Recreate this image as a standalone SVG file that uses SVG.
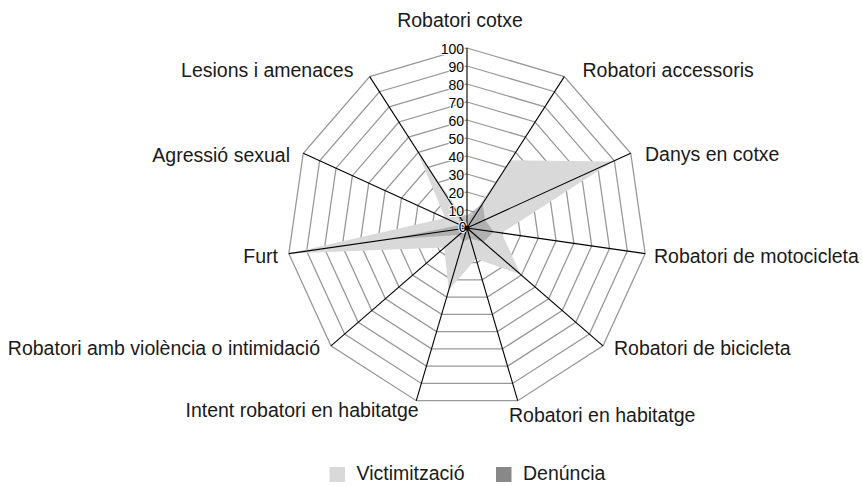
<svg xmlns="http://www.w3.org/2000/svg" xmlns:xlink="http://www.w3.org/1999/xlink" width="863" height="486" viewBox="0 0 863 486">
<style>
.lbl{font-family:"Liberation Sans",Arial,sans-serif;font-size:19.5px;fill:#1a1a1a}
.tick{font-family:"Liberation Sans Narrow","Liberation Sans",Arial,sans-serif;font-size:14px;fill:#000;text-anchor:end;stroke:#fff;stroke-width:2px;paint-order:stroke;stroke-linejoin:round}
.ring{fill:none;stroke:#999;stroke-width:1.3;vector-effect:non-scaling-stroke}
.axis{stroke:#000;stroke-width:1.1;fill:none}
.vict{fill:#d9d9da}
.den{fill:#888;fill-opacity:0.5}
</style>
<defs>
<polygon id="ring" class="ring" points="0,-1 0.5406,-0.8413 0.9096,-0.4154 0.9898,0.1423 0.7557,0.6549 0.2817,0.9595 -0.2817,0.9595 -0.7557,0.6549 -0.9898,0.1423 -0.9096,-0.4154 -0.5406,-0.8413"/>
</defs>
<rect width="863" height="486" fill="#fff"/>
<g id="chart" transform="translate(467,228)">
<g id="grid">
<use xlink:href="#ring" transform="scale(18)"/>
<use xlink:href="#ring" transform="scale(36)"/>
<use xlink:href="#ring" transform="scale(54)"/>
<use xlink:href="#ring" transform="scale(72)"/>
<use xlink:href="#ring" transform="scale(90)"/>
<use xlink:href="#ring" transform="scale(108)"/>
<use xlink:href="#ring" transform="scale(126)"/>
<use xlink:href="#ring" transform="scale(144)"/>
<use xlink:href="#ring" transform="scale(162)"/>
<use xlink:href="#ring" transform="scale(180)"/>
</g>
<polygon id="series-victimitzacio" class="vict" points="0,-5 43.5,-67.7 145.7,-66.5 34.6,5 53.7,46.6 9,30.7 -18.3,62.2 -22.7,19.6 -178.2,25.6 -21.8,-10 -50.6,-78.8"/>
<polygon id="series-denuncia" class="den" points="0,-12.6 15.6,-24.2 18,-8.2 26.7,3.8 16.3,14.1 3,10.4 -4.1,13.8 -8.2,7.1 -80.2,11.5 -6.5,-3 -9.7,-15.1"/>
<g id="axes" class="axis">
<line x1="0" y1="0" x2="0" y2="-180"/>
<line x1="0" y1="0" x2="97.3" y2="-151.4"/>
<line x1="0" y1="0" x2="163.7" y2="-74.8"/>
<line x1="0" y1="0" x2="178.2" y2="25.6"/>
<line x1="0" y1="0" x2="136" y2="117.9"/>
<line x1="0" y1="0" x2="50.7" y2="172.7"/>
<line x1="0" y1="0" x2="-50.7" y2="172.7"/>
<line x1="0" y1="0" x2="-136" y2="117.9"/>
<line x1="0" y1="0" x2="-178.2" y2="25.6"/>
<line x1="0" y1="0" x2="-163.7" y2="-74.8"/>
<line x1="0" y1="0" x2="-97.3" y2="-151.4"/>
</g>
<g id="ticks">
<text class="tick" x="-3" y="-174">100</text>
<text class="tick" x="-3" y="-156">90</text>
<text class="tick" x="-3" y="-138">80</text>
<text class="tick" x="-3" y="-120">70</text>
<text class="tick" x="-3" y="-102">60</text>
<text class="tick" x="-3" y="-84">50</text>
<text class="tick" x="-3" y="-66">40</text>
<text class="tick" x="-3" y="-48">30</text>
<text class="tick" x="-3" y="-30">20</text>
<text class="tick" x="-3" y="-12">10</text>
<text class="tick" x="-0.5" y="4">0</text>
</g>
<circle cx="0" cy="0" r="2.6" fill="#000"/>
</g>
<g id="labels" class="lbl">
<text x="460" y="27" text-anchor="middle">Robatori cotxe</text>
<text x="582.5" y="77">Robatori accessoris</text>
<text x="645" y="161">Danys en cotxe</text>
<text x="654" y="263">Robatori de motocicleta</text>
<text x="614" y="355">Robatori de bicicleta</text>
<text x="509" y="422">Robatori en habitatge</text>
<text x="418.6" y="417" text-anchor="end">Intent robatori en habitatge</text>
<text x="320" y="355" text-anchor="end">Robatori amb violència o intimidació</text>
<text x="278" y="263" text-anchor="end">Furt</text>
<text x="290" y="162" text-anchor="end">Agressió sexual</text>
<text x="353.4" y="77" text-anchor="end">Lesions i amenaces</text>
</g>
<g id="legend">
<rect x="329.5" y="467" width="15.5" height="15" fill="#d9d9da"/>
<text class="lbl" x="356.5" y="480">Victimització</text>
<rect x="496" y="467" width="15.5" height="15" fill="#888"/>
<text class="lbl" x="523" y="480">Denúncia</text>
</g>
</svg>
